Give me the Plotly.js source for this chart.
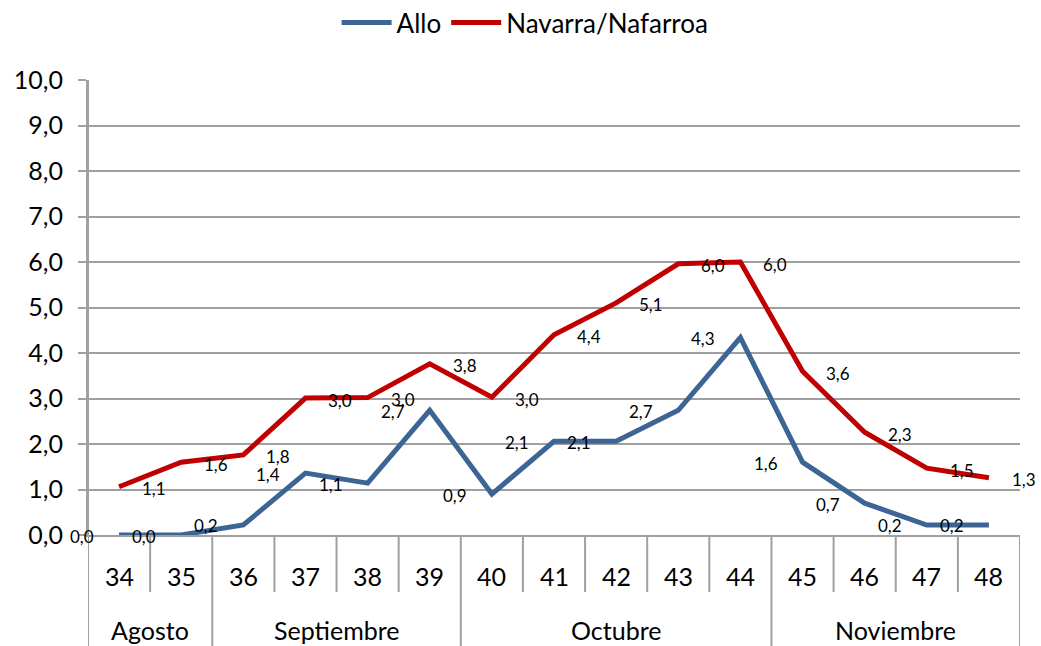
<!DOCTYPE html>
<html><head><meta charset="utf-8">
<script src="https://cdn.plot.ly/plotly-3.0.1.min.js"></script>
<style>body{margin:0;background:#fff}#chart{width:1041px;height:646px}</style>
</head><body><div id="chart"></div>
<script>
const weeks = ['34','35','36','37','38','39','40','41','42','43','44','45','46','47','48'];
const months = ['Agosto','Agosto','Septiembre','Septiembre','Septiembre','Septiembre','Octubre','Octubre','Octubre','Octubre','Octubre','Noviembre','Noviembre','Noviembre','Noviembre'];
const allo = [0.0, 0.0, 0.22, 1.36, 1.14, 2.74, 0.90, 2.06, 2.06, 2.74, 4.34, 1.60, 0.70, 0.22, 0.22];
const navarra = [1.06, 1.60, 1.76, 3.01, 3.02, 3.76, 3.03, 4.40, 5.10, 5.96, 6.00, 3.60, 2.26, 1.47, 1.26];
const yTicks = [0,1,2,3,4,5,6,7,8,9,10];

const FONT = 'Lato, "Liberation Sans", sans-serif';
const BLUE = '#3C6495', RED = '#C00000', GRID = '#A0A0A0';
const idx = weeks.map((w,i)=>i);
const fmt = v => v.toFixed(1).replace('.', ',');

const traces = [
  {x: idx, y: allo, name: 'Allo', type: 'scatter', mode: 'lines', line: {color: BLUE, width: 5}},
  {x: idx, y: navarra, name: 'Navarra/Nafarroa', type: 'scatter', mode: 'lines', line: {color: RED, width: 5}}
];

const plotH = 455, bottomH = 111, weekRowH = 57;
const annotations = [];
idx.forEach(i => {
  annotations.push({x: i, y: allo[i], xref: 'x', yref: 'y', text: fmt(allo[i]), showarrow: false,
    xshift: -37, yshift: -1, font: {family: FONT, size: 17, color: '#000'}});
  annotations.push({x: i, y: navarra[i], xref: 'x', yref: 'y', text: fmt(navarra[i]), showarrow: false,
    xshift: 35, yshift: -2, font: {family: FONT, size: 17, color: '#000'}});
  annotations.push({x: i, y: 0, xref: 'x', yref: 'y', text: weeks[i], showarrow: false,
    yshift: -41, font: {family: FONT, size: 25, color: '#000'}});
});
const groups = [];
months.forEach((m,i) => {
  if (!groups.length || groups[groups.length-1].name !== m) groups.push({name: m, start: i, end: i});
  else groups[groups.length-1].end = i;
});
const shapes = [];
groups.forEach(g => {
  annotations.push({x: (g.start + g.end)/2, y: 0, xref: 'x', yref: 'y', text: g.name, showarrow: false,
    yshift: -95, font: {family: FONT, size: 25, color: '#000'}});
});
const lineStyle = {color: GRID, width: 2};
for (let i = 0; i < weeks.length; i++) {
  const b = i + 0.5;
  const isMonthEnd = (i === weeks.length - 1) || months[i] !== months[i+1];
  shapes.push({type: 'line', xref: 'x', yref: 'paper', x0: b, x1: b, y0: 0,
    y1: isMonthEnd ? -bottomH/plotH : -weekRowH/plotH, line: lineStyle});
}
shapes.push({type: 'line', xref: 'x', yref: 'paper', x0: -0.5, x1: -0.5, y0: 1, y1: -bottomH/plotH, line: lineStyle});

const layout = {
  width: 1041, height: 646,
  margin: {l: 88, r: 21, t: 80, b: 111, autoexpand: false},
  paper_bgcolor: '#fff', plot_bgcolor: '#fff',
  separators: ',.',
  font: {family: FONT, color: '#000'},
  showlegend: true,
  legend: {orientation: 'h', x: 0.469, xanchor: 'center', y: 1.178, yanchor: 'top',
    font: {family: FONT, size: 26, color: '#000'}, itemwidth: 50, tracegroupgap: 0},
  xaxis: {range: [-0.5, 14.5], showgrid: false, zeroline: false, showline: true, linecolor: GRID, linewidth: 2,
    showticklabels: false, ticks: '', fixedrange: true},
  yaxis: {range: [0, 10], tickvals: yTicks, tickformat: '.1f', showgrid: true, gridcolor: GRID, gridwidth: 2,
    zeroline: false, showline: true, linecolor: GRID, linewidth: 2, ticks: 'outside', ticklen: 8, tickwidth: 2,
    tickcolor: GRID, ticklabelstandoff: 10, tickfont: {family: FONT, size: 25, color: '#000'}, fixedrange: true},
  annotations: annotations,
  shapes: shapes
};
Plotly.newPlot('chart', traces, layout, {displayModeBar: false, staticPlot: true});
</script></body></html>
